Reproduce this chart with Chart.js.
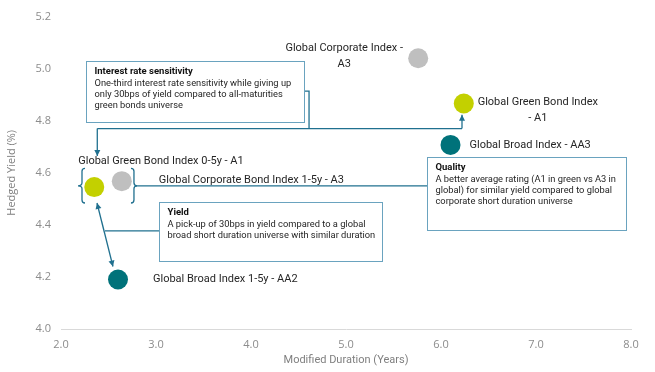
<!DOCTYPE html>
<html>
<head>
<meta charset="utf-8">
<script src="https://cdn.jsdelivr.net/npm/chart.js@4.4.1/dist/chart.umd.min.js"></script>
<style>
  html, body { margin: 0; padding: 0; background: #fff; }
</style>
</head>
<body>
<canvas id="chart" width="655" height="372"></canvas>
<script>
// --- data ---
const indexNames = [
  'Global Corporate Index - A3',
  'Global Green Bond Index - A1',
  'Global Broad Index - AA3',
  'Global Green Bond Index 0-5y - A1',
  'Global Corporate Bond Index 1-5y - A3',
  'Global Broad Index 1-5y - AA2'
];
const durations = [5.76, 6.24, 6.10, 2.35, 2.64, 2.60];
const hedgedYields = [5.04, 4.866, 4.707, 4.545, 4.568, 4.19];
const yTickValues = [4.0, 4.2, 4.4, 4.6, 4.8, 5.0, 5.2];
const xTickValues = [2, 3, 4, 5, 6, 7, 8];

const LIME = '#C3D000';
const GREY = '#BFBFBF';
const TEAL = '#00727A';
const pointColors = [GREY, LIME, TEAL, LIME, GREY, TEAL];

const FONT = '"Open Sans", "Noto Sans", sans-serif';
const LABEL_FONT = 'Roboto, "Open Sans", sans-serif';
const LINE = '#20708F';
const BOX_LINE = '#6AA3BF';

// label lines shown next to each point (same order as indexNames)
const labelLines = [
  ['Global Corporate Index -', 'A3'],
  ['Global Green Bond Index', '- A1'],
  ['Global Broad Index - AA3'],
  ['Global Green Bond Index 0-5y - A1'],
  ['Global Corporate Bond Index 1-5y - A3'],
  ['Global Broad Index 1-5y - AA2']
];
// pixel offsets of each label from its point
const labelLayout = [
  { dx: -74, dy: -10, align: 'center' },
  { dx: 74, dy: -1, align: 'center' },
  { dx: 19, dy: 0, align: 'left' },
  { dx: -16, dy: -26, align: 'left' },
  { dx: 37, dy: -1, align: 'left' },
  { dx: 35, dy: 0, align: 'left' }
];

// commentary boxes, placed in axis units
const notes = [
  { title: 'Interest rate sensitivity',
    lines: ['One-third interest rate sensitivity while giving up',
            'only 30bps of yield compared to all-maturities',
            'green bonds universe'],
    x0: 2.263, x1: 4.558, y0: 5.029, y1: 4.796 },
  { title: 'Quality',
    lines: ['A better average rating (A1 in green vs A3 in',
            'global) for similar yield compared to global',
            'corporate short duration universe'],
    x0: 5.853, x1: 7.947, y0: 4.659, y1: 4.377 },
  { title: 'Yield',
    lines: ['A pick-up of 30bps in yield compared to a global',
            'broad short duration universe with similar duration'],
    x0: 3.032, x1: 5.379, y0: 4.488, y1: 4.263 }
];

// connector lines in axis units; head marks arrow tips
const connectors = [
  { pts: [[4.558, 4.914], [4.611, 4.914], [4.611, 4.770]] },
  { pts: [[2.382, 4.770], [6.221, 4.770]] },
  { pts: [[2.382, 4.770], [2.382, 4.665]], head: 'end' },
  { pts: [[6.221, 4.770], [6.221, 4.823]], head: 'end' },
  { pts: [[2.779, 4.550], [5.853, 4.550]] },
  { pts: [[2.379, 4.484], [2.547, 4.240]], head: 'both' },
  { pts: [[2.463, 4.377], [3.032, 4.377]] }
];

// brackets around the two short-duration points
const braces = [
  { x: 2.221, tip: 2.179, top: 4.617, mid: 4.550, bottom: 4.484 },
  { x: 2.768, tip: 2.800, top: 4.617, mid: 4.550, bottom: 4.484 }
];

function arrowHead(ctx, fromX, fromY, toX, toY) {
  const a = Math.atan2(toY - fromY, toX - fromX);
  const len = 6, w = 3;
  ctx.beginPath();
  ctx.moveTo(toX, toY);
  ctx.lineTo(toX - len * Math.cos(a) + w * Math.sin(a), toY - len * Math.sin(a) - w * Math.cos(a));
  ctx.lineTo(toX - len * Math.cos(a) - w * Math.sin(a), toY - len * Math.sin(a) + w * Math.cos(a));
  ctx.closePath();
  ctx.fill();
}

function drawBrace(ctx, x, tip, top, mid, bottom) {
  const d = tip < x ? 1 : -1;
  const r = 3;
  ctx.beginPath();
  ctx.moveTo(x + d * r, top);
  ctx.quadraticCurveTo(x, top, x, top + r);
  ctx.lineTo(x, mid - r);
  ctx.quadraticCurveTo(x, mid, tip, mid);
  ctx.quadraticCurveTo(x, mid, x, mid + r);
  ctx.lineTo(x, bottom - r);
  ctx.quadraticCurveTo(x, bottom, x + d * r, bottom);
  ctx.stroke();
}

const overlayPlugin = {
  id: 'overlay',
  beforeDatasetsDraw(chart) {
    const { ctx, scales: { x, y } } = chart;
    const px = v => x.getPixelForValue(v);
    const py = v => y.getPixelForValue(v);
    ctx.save();
    ctx.strokeStyle = LINE;
    ctx.fillStyle = LINE;
    ctx.lineWidth = 1.3;

    connectors.forEach(c => {
      const p = c.pts.map(([a, b]) => [px(a), py(b)]);
      ctx.beginPath();
      ctx.moveTo(p[0][0], p[0][1]);
      for (let i = 1; i < p.length; i++) ctx.lineTo(p[i][0], p[i][1]);
      ctx.stroke();
      const n = p.length - 1;
      if (c.head === 'end' || c.head === 'both') arrowHead(ctx, p[n - 1][0], p[n - 1][1], p[n][0], p[n][1]);
      if (c.head === 'both') arrowHead(ctx, p[1][0], p[1][1], p[0][0], p[0][1]);
    });

    braces.forEach(b => drawBrace(ctx, px(b.x), px(b.tip), py(b.top), py(b.mid), py(b.bottom)));

    notes.forEach(n => {
      const l = Math.round(px(n.x0)) + 0.5, t = Math.round(py(n.y0)) + 0.5;
      const w = Math.round(px(n.x1) - px(n.x0)), h = Math.round(py(n.y1) - py(n.y0));
      ctx.fillStyle = '#ffffff';
      ctx.fillRect(l, t, w, h);
      ctx.strokeStyle = BOX_LINE;
      ctx.lineWidth = 1;
      ctx.strokeRect(l, t, w, h);
      ctx.textAlign = 'left';
      ctx.textBaseline = 'middle';
      ctx.fillStyle = '#111111';
      ctx.font = 'bold 9.5px ' + LABEL_FONT;
      ctx.fillText(n.title, l + 8, t + 10);
      ctx.font = '9.3px ' + LABEL_FONT;
      ctx.fillStyle = '#1e1e1e';
      n.lines.forEach((s, i) => ctx.fillText(s, l + 8, t + 22 + i * 11.3));
    });
    ctx.restore();
  },
  afterDatasetsDraw(chart) {
    const { ctx, scales: { x, y } } = chart;
    ctx.save();
    ctx.font = '11px ' + LABEL_FONT;
    ctx.fillStyle = '#262626';
    ctx.textBaseline = 'middle';
    durations.forEach((d, i) => {
      const cx = x.getPixelForValue(d), cy = y.getPixelForValue(hedgedYields[i]);
      const lay = labelLayout[i];
      ctx.textAlign = lay.align;
      labelLines[i].forEach((s, k) => ctx.fillText(s, cx + lay.dx, cy + lay.dy + k * 15.5));
    });
    ctx.restore();
  }
};

new Chart(document.getElementById('chart'), {
  type: 'scatter',
  data: {
    labels: indexNames,
    datasets: [{
      label: 'Indices',
      data: durations.map((d, i) => ({ x: d, y: hedgedYields[i] })),
      pointBackgroundColor: pointColors,
      pointBorderWidth: 0,
      pointRadius: 10,
      pointHoverRadius: 10
    }]
  },
  options: {
    responsive: false,
    animation: false,
    events: [],
    layout: { padding: { left: 0, right: 24, top: 14, bottom: 0 } },
    plugins: { legend: { display: false }, tooltip: { enabled: false } },
    scales: {
      x: {
        type: 'linear',
        min: 2, max: 8,
        afterBuildTicks: s => { s.ticks = xTickValues.map(v => ({ value: v })); },
        afterFit: s => { s.height = 43; },
        grid: { display: false, drawTicks: false },
        border: { display: true, color: '#D9D9D9', width: 1 },
        ticks: { padding: 9, color: '#8C8C8C', font: { family: FONT, size: 11 }, callback: v => v.toFixed(1) },
        title: { display: true, text: 'Modified Duration (Years)', color: '#7F7F7F',
                 font: { family: LABEL_FONT, size: 11 }, padding: { top: 0, bottom: 5 } }
      },
      y: {
        type: 'linear',
        min: 4.0, max: 5.2,
        afterBuildTicks: s => { s.ticks = yTickValues.map(v => ({ value: v })); },
        afterFit: s => { s.width = 61; },
        grid: { display: false, drawTicks: false },
        border: { display: false },
        ticks: { padding: 10, color: '#8C8C8C', font: { family: FONT, size: 11 }, callback: v => v.toFixed(1) },
        title: { display: true, text: 'Hedged Yield (%)', color: '#7F7F7F',
                 font: { family: FONT, size: 11 }, padding: { top: 5, bottom: 0 } }
      }
    }
  },
  plugins: [overlayPlugin]
});
</script>
</body>
</html>
